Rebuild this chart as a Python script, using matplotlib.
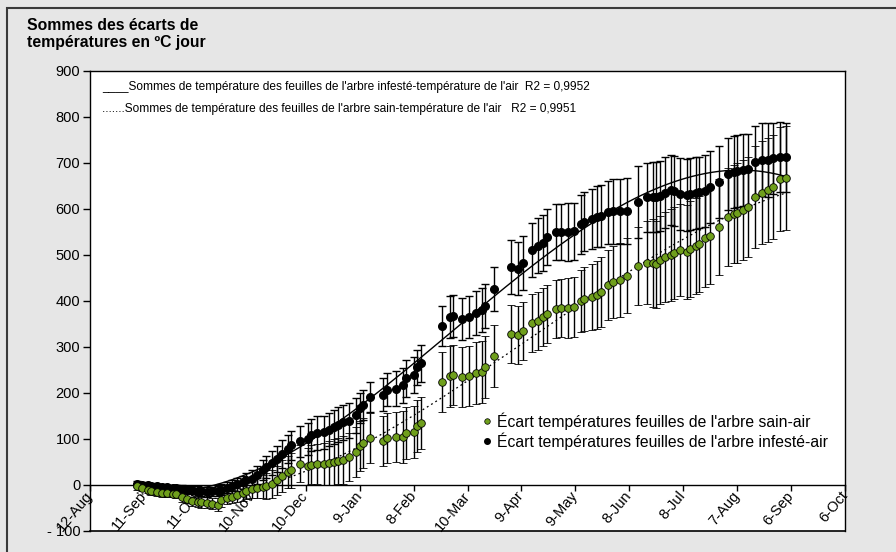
import numpy as np
import matplotlib.pyplot as plt
import matplotlib.dates as mdates
from matplotlib.patches import Rectangle

plt.rcParams['font.family'] = ['Liberation Sans', 'DejaVu Sans']

# jours de mesure
dates = ['2009-09-07', '2009-09-10', '2009-09-13', '2009-09-15', '2009-09-18', '2009-09-21',
         '2009-09-24', '2009-09-27', '2009-09-29',
         '2009-10-02', '2009-10-05', '2009-10-08', '2009-10-11', '2009-10-13', '2009-10-16',
         '2009-10-19', '2009-10-22', '2009-10-24', '2009-10-27', '2009-10-30',
         '2009-11-02', '2009-11-05', '2009-11-07', '2009-11-10', '2009-11-13', '2009-11-16',
         '2009-11-18', '2009-11-21', '2009-11-24', '2009-11-27', '2009-11-30',
         '2009-12-02', '2009-12-07', '2009-12-11', '2009-12-13', '2009-12-16', '2009-12-20',
         '2009-12-23', '2009-12-26', '2009-12-28', '2009-12-31',
         '2010-01-03', '2010-01-07', '2010-01-09', '2010-01-11', '2010-01-15', '2010-01-22',
         '2010-01-24', '2010-01-29',
         '2010-02-02', '2010-02-04', '2010-02-08', '2010-02-10', '2010-02-12', '2010-02-24',
         '2010-02-28',
         '2010-03-02', '2010-03-07', '2010-03-11', '2010-03-15', '2010-03-18', '2010-03-20',
         '2010-03-25',
         '2010-04-03', '2010-04-07', '2010-04-10', '2010-04-15', '2010-04-18', '2010-04-21',
         '2010-04-23', '2010-04-28',
         '2010-05-01', '2010-05-05', '2010-05-08', '2010-05-12', '2010-05-14', '2010-05-18',
         '2010-05-21', '2010-05-23', '2010-05-27', '2010-05-30',
         '2010-06-03', '2010-06-07', '2010-06-13', '2010-06-18', '2010-06-21', '2010-06-23',
         '2010-06-25', '2010-06-28',
         '2010-07-01', '2010-07-03', '2010-07-06', '2010-07-10', '2010-07-12', '2010-07-15',
         '2010-07-17', '2010-07-20', '2010-07-23', '2010-07-28',
         '2010-08-02', '2010-08-05', '2010-08-07', '2010-08-10', '2010-08-13', '2010-08-17',
         '2010-08-21', '2010-08-24', '2010-08-27', '2010-08-31',
         '2010-09-03']

# sommes des ecarts arbre sain - air (ºC jour)
sain = [-3, -6, -10, -13, -15, -17, -18, -19, -20,
        -27, -30, -35, -36, -37, -39, -41, -43, -33, -28, -25,
        -22, -18, -12, -8, -6, -4, -2, 2, 10, 20, 28,
        32, 46, 41, 44, 46, 46, 48, 50, 52, 54,
        61, 72, 85, 91, 102, 96, 102, 104,
        104, 113, 115, 128, 135, 224, 236,
        239, 235, 237, 243, 246, 257, 280,
        328, 326, 335, 352, 357, 365, 372, 383,
        385, 385, 387, 400, 404, 409, 413, 420, 435, 441,
        446, 455, 476, 483, 483, 480, 489, 496,
        500, 505, 511, 507, 513, 520, 524, 536, 541, 561,
        583, 589, 591, 598, 604, 626, 635, 641, 648, 665,
        668]

# sommes des ecarts arbre infeste - air (ºC jour)
infeste = [2, 0, -1, -2, -3, -4, -5, -6, -7,
           -8, -10, -11, -12, -14, -15, -14, -13, -10, -6, -2,
           2, 6, 10, 14, 22, 33, 40, 48, 57, 68, 78,
           86, 95, 100, 108, 113, 115, 120, 126, 131, 136,
           140, 152, 167, 174, 191, 196, 207, 209,
           217, 232, 239, 256, 265, 346, 365,
           367, 361, 365, 374, 380, 389, 426,
           474, 470, 483, 511, 520, 526, 539, 550,
           550, 550, 552, 567, 572, 578, 583, 585, 593, 595,
           595, 596, 615, 626, 626, 627, 628, 635,
           641, 639, 633, 630, 633, 635, 636, 639, 648, 659,
           676, 680, 682, 685, 686, 702, 707, 707, 710, 713,
           713]

err_sain = [8, 8, 8, 8, 8, 8, 8, 8, 8,
            10, 10, 10, 12, 12, 12, 12, 14, 14, 14, 14,
            16, 16, 18, 20, 22, 25, 28, 30, 32, 35, 35,
            38, 40, 40, 42, 44, 46, 48, 50, 50, 52,
            52, 54, 54, 54, 54, 55, 55, 55,
            56, 57, 57, 57, 57, 65, 66,
            66, 66, 66, 67, 68, 68, 68,
            63, 63, 63, 63, 63, 63, 63, 63,
            63, 65, 65, 68, 70, 72, 74, 76, 76, 78,
            80, 82, 85, 90, 95, 95, 95, 98,
            100, 100, 100, 102, 104, 104, 104, 105, 105, 105,
            106, 106, 108, 108, 108, 110, 112, 113, 113, 113,
            113]

err_infeste = [6, 6, 6, 6, 6, 6, 6, 6, 6,
               8, 8, 8, 10, 10, 10, 10, 10, 12, 12, 12,
               14, 14, 16, 18, 20, 22, 24, 26, 28, 30, 30,
               32, 34, 34, 35, 36, 36, 36, 37, 38, 38,
               38, 38, 33, 33, 33, 36, 36, 38,
               38, 40, 40, 38, 40, 43, 45,
               45, 45, 46, 47, 48, 48, 48,
               58, 58, 58, 58, 60, 60, 60, 60,
               60, 62, 62, 64, 64, 66, 66, 68, 68, 70,
               70, 72, 78, 75, 76, 76, 76, 77,
               76, 76, 78, 78, 78, 78, 78, 78, 78, 78,
               78, 78, 78, 78, 78, 78, 79, 80, 77, 77,
               75]

tick_labels = ['12-Aug', '11-Sep', '11-Oct', '10-Nov', '10-Dec', '9-Jan', '8-Feb', '10-Mar',
               '9-Apr', '9-May', '8-Jun', '8-Jul', '7-Aug', '6-Sep', '6-Oct']
y_ticks = [-100, 0, 100, 200, 300, 400, 500, 600, 700, 800, 900]
y_labels = ['- 100', '0', '100', '200', '300', '400', '500', '600', '700', '800', '900']

vert = '#6f9f1c'

x = mdates.datestr2num(dates)
ticks = mdates.datestr2num('2009-08-12') + 30 * np.arange(len(tick_labels))

fig = plt.figure(figsize=(8.96, 5.52), dpi=100, facecolor='#e6e6e6')
fig.patches.append(Rectangle((7 / 896, -0.2), 1.5, 1.2 - 8 / 552, transform=fig.transFigure,
                             fill=False, edgecolor='#3a3a3a', lw=1.5))
ax = fig.add_axes([90 / 896, 21 / 552, 755 / 896, 460 / 552])

# axe des x sur la ligne du zero, cadre ferme en bas
ax.spines['bottom'].set_position(('data', 0))
ax.plot([0, 1], [0, 0], transform=ax.transAxes, color='black', lw=1.2, clip_on=False)
for s in ax.spines.values():
    s.set_linewidth(1.0)

# courbes de tendance polynomiales
xf = np.linspace(x[0], x[-1], 300)
p_inf = np.polyfit(x - x[0], infeste, 3)
p_sain = np.polyfit(x - x[0], sain, 3)
ax.plot(xf, np.polyval(p_inf, xf - x[0]), color='black', lw=1.0, zorder=4)
ax.plot(xf, np.polyval(p_sain, xf - x[0]), color='black', lw=0.9, ls=(0, (1.5, 2.5)), zorder=4)

ax.errorbar(x, infeste, yerr=err_infeste, fmt='o', color='black', ms=5.5, mec='black',
            ecolor='black', elinewidth=1.0, capsize=3, capthick=1.0, zorder=3)
ax.errorbar(x, sain, yerr=err_sain, fmt='o', color=vert, ms=5.5, mec='black', mew=0.6,
            ecolor='black', elinewidth=1.0, capsize=3, capthick=1.0, zorder=5)

ax.set_xlim(ticks[0], ticks[-1])
ax.set_ylim(-100, 900)
ax.set_xticks(ticks)
ax.set_xticklabels(tick_labels, rotation=50, ha='right', va='center', rotation_mode='anchor')
ax.set_yticks(y_ticks)
ax.set_yticklabels(y_labels)
ax.tick_params(axis='x', direction='out', length=4, width=1, labelsize=10.5, pad=2)
ax.tick_params(axis='y', direction='out', length=5, width=1, labelsize=10.5, pad=2)

# titre de l'axe des ordonnees
fig.text(27 / 896, 1 - 30 / 552, 'Sommes des écarts de', fontsize=11.3, fontweight='bold',
         va='baseline')
fig.text(27 / 896, 1 - 47 / 552, 'températures en ºC jour', fontsize=11.3, fontweight='bold',
         va='baseline')

# legende des courbes de tendance
fig.text(102 / 896, 1 - 87 / 552,
         "____Sommes de température des feuilles de l'arbre infesté-température de l'air  R2 = 0,9952",
         fontsize=8.6, va='center')
fig.text(102 / 896, 1 - 109 / 552,
         ".......Sommes de température des feuilles de l'arbre sain-température de l'air   R2 = 0,9951",
         fontsize=8.6, va='center')

# legende des points
ax.plot([487 / 896], [1 - 421 / 552], 'o', color=vert, mec='black', mew=0.5, ms=4,
        transform=fig.transFigure, clip_on=False)
ax.plot([487 / 896], [1 - 441 / 552], 'o', color='black', ms=4,
        transform=fig.transFigure, clip_on=False)
fig.text(497 / 896, 1 - 421 / 552, "Écart températures feuilles de l'arbre sain-air",
         fontsize=11.3, va='center')
fig.text(497 / 896, 1 - 441 / 552, "Écart températures feuilles de l'arbre infesté-air",
         fontsize=11.3, va='center')

plt.savefig('out.png', dpi=100, facecolor=fig.get_facecolor())
